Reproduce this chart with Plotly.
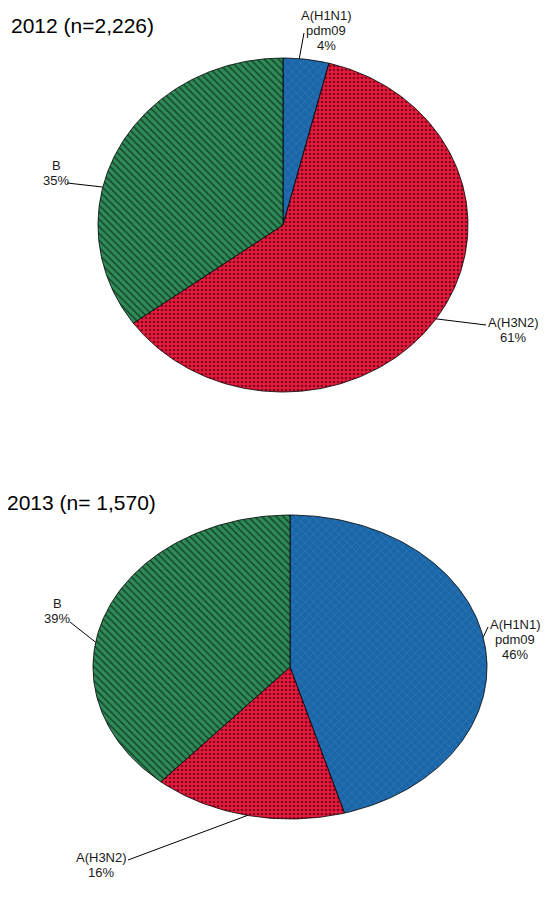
import math
import plotly.graph_objects as go

W, H = 555, 904

# data
strains = ["A(H1N1)pdm09", "A(H3N2)", "B"]
label_names = [["A(H1N1)", "pdm09"], ["A(H3N2)"], ["B"]]
pct_2012 = [4, 61, 35]
pct_2013 = [46, 16, 39]
titles = ["2012 (n=2,226)", "2013 (n= 1,570)"]

# styling
colors = ["#1a66a8", "#ea1a3e", "#2e8b57"]
pat_shape = ["x", ".", "\\"]
pat_fg = ["#86bce8", "black", "black"]
pat_size = [6, 4, 5]
pat_solid = [0.1, 0.33, 0.3]

# pie geometry in pixels (centre x, centre y, x radius, y radius)
pies = [(275, 217, 185, 167), (282, 659, 197, 152)]
title_pos = [(1, 18), (-3, 494)]
# label anchor (centre x of text, y of first line) per strain
label_pos = [
    [(318, 7), (505, 314), (48, 157)],
    [(507, 616), (93, 849), (49, 595)],
]
# where the leader line leaves the text, relative to the label anchor
leader_start = [
    [(-22, 18), (-27, 3), (11, 18)],
    [(-27, 3), (27, 3), (13, 19)],
]
# where the leader line meets the slice, as a fraction of the slice arc
leader_frac = [
    [0.35, 0.5, 0.39],
    [0.48, 0.5, 0.42],
]
line_gap = 15

fig = go.Figure()
annotations = []
shapes = []

for k, values in enumerate([pct_2012, pct_2013]):
    cx, cy, rx, ry = pies[k]
    total = sum(values)
    cum = 0
    for i, v in enumerate(values):
        t0 = cum / total * 2 * math.pi
        t1 = (cum + v) / total * 2 * math.pi
        cum += v
        n = max(4, int(math.degrees(t1 - t0)))
        xs, ys = [cx], [cy]
        for s in range(n + 1):
            t = t0 + (t1 - t0) * s / n
            xs.append(cx + rx * math.sin(t))
            ys.append(cy - ry * math.cos(t))
        xs.append(cx)
        ys.append(cy)
        fig.add_trace(go.Scatter(
            x=xs, y=ys, mode="lines", fill="toself",
            fillcolor=colors[i],
            fillpattern=dict(shape=pat_shape[i], bgcolor=colors[i],
                             fgcolor=pat_fg[i], size=pat_size[i],
                             solidity=pat_solid[i]),
            line=dict(color="black", width=0.8),
            hoverinfo="skip", showlegend=False, name=strains[i],
        ))

        # label text
        lines = label_names[i] + [f"{v}%"]
        lx, ly = label_pos[k][i]
        for j, txt in enumerate(lines):
            annotations.append(dict(x=lx, y=ly + j * line_gap, xref="x",
                                    yref="y", text=txt, showarrow=False,
                                    xanchor="center", yanchor="middle",
                                    font=dict(size=13, color="#1a1a1a")))

        # leader line from text to the slice edge
        sx = lx + leader_start[k][i][0]
        sy = ly + leader_start[k][i][1]
        tm = t0 + (t1 - t0) * leader_frac[k][i]
        ex = cx + rx * math.sin(tm)
        ey = cy - ry * math.cos(tm)
        shapes.append(dict(type="line", xref="x", yref="y",
                           x0=sx, y0=sy, x1=ex, y1=ey,
                           line=dict(color="black", width=1)))

    annotations.append(dict(x=0, y=1 - title_pos[k][1] / H, xref="paper",
                            yref="paper", xshift=title_pos[k][0],
                            text=titles[k], showarrow=False,
                            xanchor="left", yanchor="middle",
                            font=dict(size=21, color="black")))

fig.update_layout(
    width=W, height=H,
    margin=dict(l=0, r=0, t=0, b=0),
    paper_bgcolor="white", plot_bgcolor="white",
    font=dict(family="Liberation Sans, Arial, sans-serif"),
    xaxis=dict(range=[0, W], visible=False, fixedrange=True),
    yaxis=dict(range=[H, 0], visible=False, fixedrange=True),
    annotations=annotations, shapes=shapes,
)

fig.write_html("out.html")
